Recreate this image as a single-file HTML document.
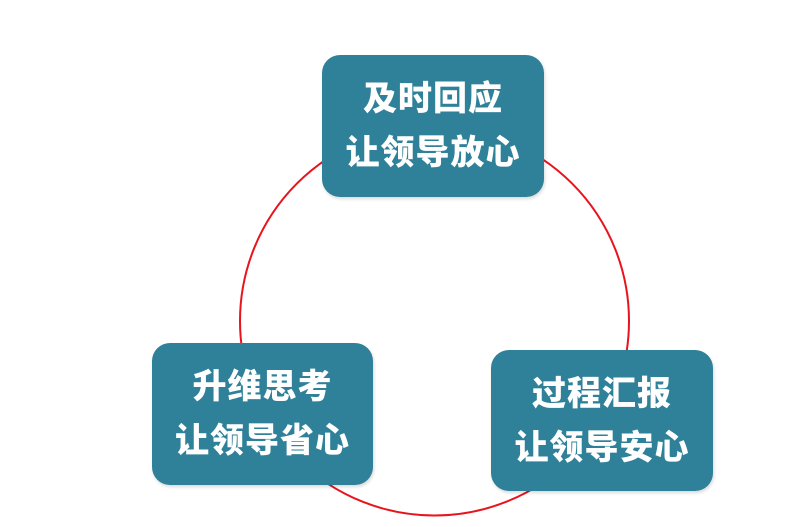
<!DOCTYPE html>
<html><head><meta charset="utf-8"><style>
html,body{margin:0;padding:0;background:#fff;}
body{width:810px;height:527px;position:relative;overflow:hidden;font-family:"Liberation Sans","Noto Sans CJK SC",sans-serif;}
.b{position:absolute;background:#2f8199;border-radius:18px;color:#fff;font-weight:900;font-size:34px;letter-spacing:1px;text-align:center;display:flex;flex-direction:column;justify-content:center;line-height:54px;box-shadow:1px 2px 3px rgba(0,0,0,0.15);}
svg{position:absolute;left:0;top:0;}
</style></head><body>
<svg width="810" height="527"><circle cx="434.5" cy="321" r="194.5" fill="none" stroke="#e8141c" stroke-width="2"/></svg>
<div class="b" style="left:322px;top:55px;width:222px;height:142px;"><div>及时回应</div><div>让领导放心</div></div>
<div class="b" style="left:152px;top:343px;width:221px;height:142px;"><div>升维思考</div><div>让领导省心</div></div>
<div class="b" style="left:491px;top:350px;width:222px;height:141px;"><div>过程汇报</div><div>让领导安心</div></div>
</body></html>
